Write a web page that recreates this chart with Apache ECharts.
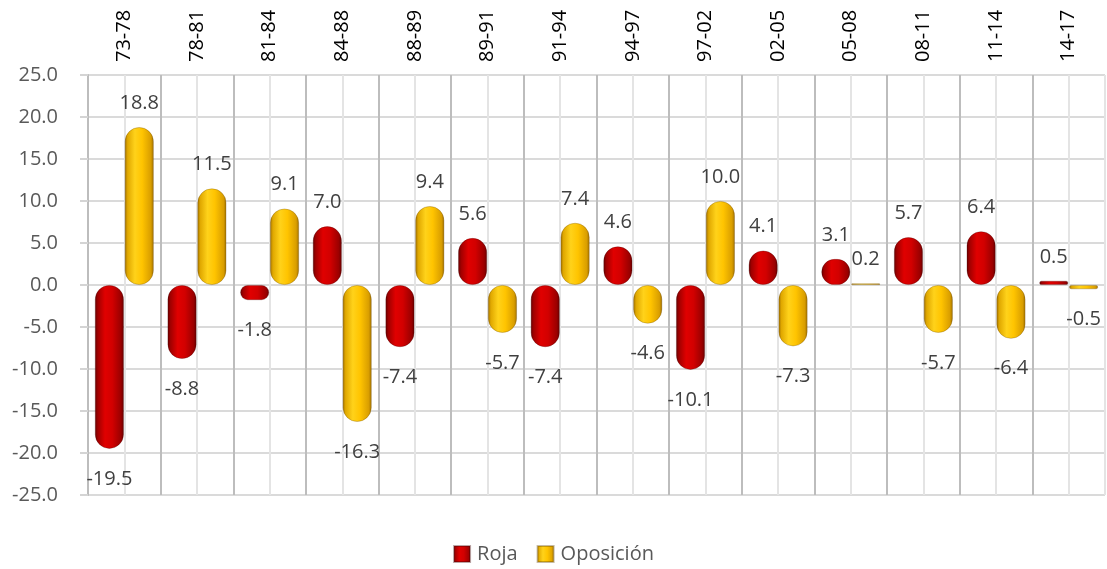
<!DOCTYPE html>
<html>
<head>
<meta charset="utf-8">
<script src="https://cdn.jsdelivr.net/npm/echarts@6/dist/echarts.min.js"></script>
<style>
html,body{margin:0;padding:0;background:#fff;}
#chart{width:1107px;height:569px;}
</style>
</head>
<body>
<div id="chart"></div>
<script>
const categories = ['73-78','78-81','81-84','84-88','88-89','89-91','91-94','94-97','97-02','02-05','05-08','08-11','11-14','14-17'];
const roja = [-19.5, -8.8, -1.8, 7.0, -7.4, 5.6, -7.4, 4.6, -10.1, 4.1, 3.1, 5.7, 6.4, 0.5];
const oposicion = [18.8, 11.5, 9.1, -16.3, 9.4, -5.7, 7.4, -4.6, 10.0, -7.3, 0.2, -5.7, -6.4, -0.5];
const seriesNames = ['Roja', 'Oposición'];
const yMin = -25, yMax = 25, yStep = 5;

const FONT = '"Open Sans", "Noto Sans", sans-serif';

function grad(stops) {
  return new echarts.graphic.LinearGradient(0, 0, 1, 0, stops.map(c => ({offset: c[0], color: c[1]})));
}
const redFill = grad([[0,'#640000'],[0.1,'#a00000'],[0.35,'#e00000'],[0.6,'#d20000'],[0.9,'#9a0000'],[1,'#640000']]);
const yellowFill = grad([[0,'#a07000'],[0.1,'#e0a800'],[0.35,'#ffd21a'],[0.6,'#ffc400'],[0.9,'#d99e00'],[1,'#a07000']]);

function makeData(values) {
  return values.map(v => ({
    value: v,
    label: {position: v >= 0 ? 'top' : 'bottom', distance: v >= 0 ? 14 : 20}
  }));
}

const labelStyle = {
  show: true,
  fontFamily: FONT,
  fontSize: 20,
  color: '#404040',
  formatter: p => Number(p.value).toFixed(1)
};

const chart = echarts.init(document.getElementById('chart'), null, {renderer: 'canvas'});
chart.setOption({
  animation: false,
  backgroundColor: '#fff',
  grid: {left: 88, right: 2, top: 75, bottom: 74, containLabel: false},
  legend: {
    bottom: 0,
    left: 'center',
    itemWidth: 16,
    itemHeight: 16,
    itemGap: 19,
    icon: 'rect',
    textStyle: {fontFamily: FONT, fontSize: 20, color: '#595959', padding: [0,0,0,2]},
    data: seriesNames
  },
  xAxis: [{
    type: 'category',
    position: 'top',
    data: categories,
    axisLine: {show: false},
    axisTick: {show: false},
    axisLabel: {rotate: 90, margin: 13, fontFamily: FONT, fontSize: 20, color: '#000'},
    splitLine: {show: true, lineStyle: {color: '#bdbdbd', width: 2}}
  }, {
    type: 'category',
    position: 'top',
    data: categories.flatMap(c => [c + 'a', c + 'b']),
    axisLine: {show: false},
    axisTick: {show: false},
    axisLabel: {show: false},
    splitLine: {show: true, interval: (idx) => idx % 2 === 1, lineStyle: {color: '#e4e4e4', width: 2}}
  }],
  yAxis: {
    type: 'value',
    min: yMin, max: yMax, interval: yStep,
    axisLine: {show: true, lineStyle: {color: '#bdbdbd', width: 2}},
    axisTick: {show: true, length: 8, lineStyle: {color: '#d4d4d4', width: 2}},
    axisLabel: {margin: 30, fontFamily: FONT, fontSize: 20, color: '#595959', formatter: v => v.toFixed(1)},
    splitLine: {show: true, lineStyle: {color: '#dadada', width: 2}}
  },
  series: [{
    name: seriesNames[0],
    type: 'bar',
    xAxisIndex: 0,
    barWidth: 29,
    barGap: '3%',
    data: makeData(roja),
    itemStyle: {color: redFill, borderRadius: 14, borderColor: 'rgba(60,0,0,0.35)', borderWidth: 0.8},
    label: labelStyle
  }, {
    name: seriesNames[1],
    type: 'bar',
    xAxisIndex: 0,
    barWidth: 29,
    barGap: '3%',
    data: makeData(oposicion),
    itemStyle: {color: yellowFill, borderRadius: 14, borderColor: 'rgba(90,60,0,0.35)', borderWidth: 0.8},
    label: labelStyle
  }]
});
</script>
</body>
</html>
